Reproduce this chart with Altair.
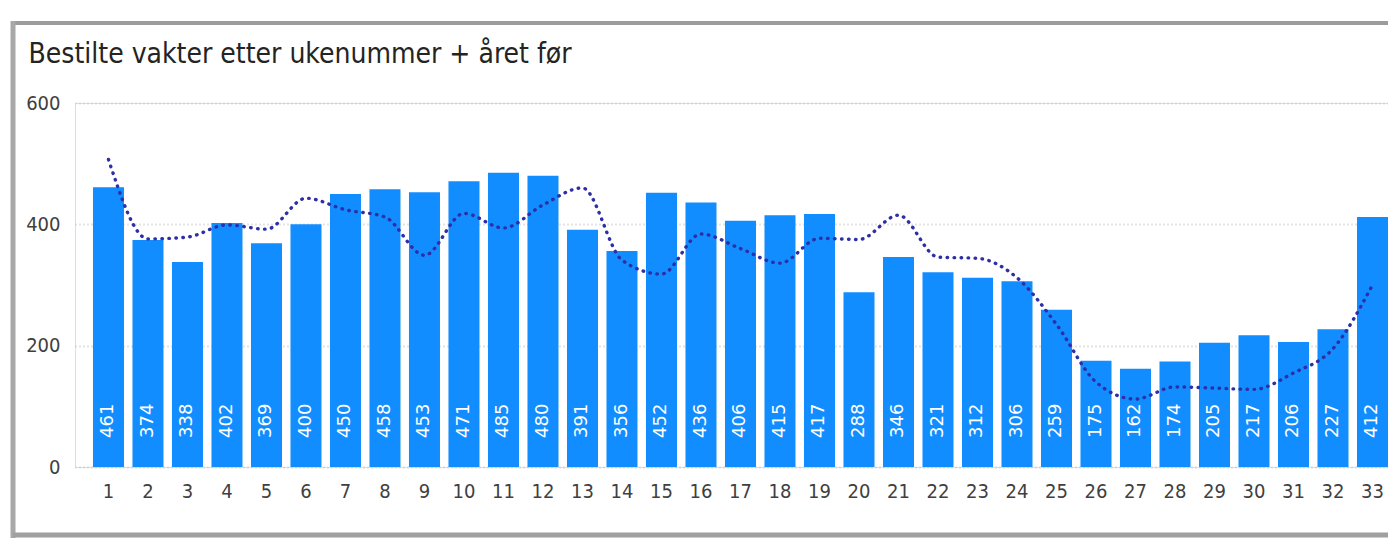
import altair as alt
import pandas as pd

weeks = list(range(1, 34))
bestilte = [461, 374, 338, 402, 369, 400, 450, 458, 453, 471, 485, 480, 391, 356, 452, 436,
            406, 415, 417, 288, 346, 321, 312, 306, 259, 175, 162, 174, 205, 217, 206, 227, 412]
aret_for = [507, 376, 379, 399, 392, 443, 424, 412, 349, 418, 394, 432, 460, 341, 318, 384,
            360, 336, 377, 375, 415, 346, 344, 312, 235, 140, 112, 132, 130, 128, 155, 195, 300]
y_ticks = [0, 200, 400, 600]
title_text = "Bestilte vakter etter ukenummer + året før"

df = pd.DataFrame({"uke": weeks, "bestilte": bestilte, "aret_for": aret_for, "zero": 0})

W = 1313
H = 364
FONT = "DejaVu Sans Condensed, Liberation Sans Narrow, DejaVu Sans, sans-serif"
LABEL_COLOR = "#404040"

xscale = alt.Scale(paddingInner=0.215, paddingOuter=0.2275, align=1, round=False)
yscale = alt.Scale(domain=[0, 600], nice=False, zero=True)

x_enc = alt.X("uke:O", scale=xscale,
              axis=alt.Axis(title=None, labelAngle=0, labelFontSize=20, labelColor=LABEL_COLOR,
                            labelFont=FONT, ticks=False, domain=False, labelPadding=14, grid=False))

base = alt.Chart(df)

bars = base.mark_bar(color="#118DFF").encode(
    x=x_enc,
    y=alt.Y("bestilte:Q", scale=yscale,
            axis=alt.Axis(title=None, values=y_ticks, labelFontSize=20, labelColor=LABEL_COLOR,
                          labelFont=FONT, ticks=False, domain=False, labelPadding=15,
                          grid=True, gridColor="#c8c8c8", gridDash=[1, 3], gridWidth=2)),
)

labels = base.mark_text(angle=270, align="left", baseline="middle", dx=29, color="white",
                        fontSize=18, font="DejaVu Sans").encode(
    x=alt.X("uke:O", scale=xscale),
    y=alt.Y("zero:Q", scale=yscale),
    text=alt.Text("bestilte:Q"),
)

line = base.mark_line(color="#2e2ea6", strokeWidth=3.4, strokeDash=[0.5, 6.5], strokeCap="round",
                      interpolate="monotone").encode(
    x=alt.X("uke:O", scale=xscale),
    y=alt.Y("aret_for:Q", scale=yscale),
)

frame_df = pd.DataFrame({"k": [0]})
frame_top = alt.Chart(frame_df).mark_rule(color="#9c9c9c", strokeWidth=4).encode(
    x=alt.value(-62), x2=alt.value(W + 10), y=alt.value(-80))
frame_left = alt.Chart(frame_df).mark_rule(color="#a8a8a8", strokeWidth=5).encode(
    x=alt.value(-62), y=alt.value(-82), y2=alt.value(440))
frame_bottom = alt.Chart(frame_df).mark_rule(color="#a0a0a0", strokeWidth=5).encode(
    x=alt.value(-62), x2=alt.value(W + 10), y=alt.value(432))

chart = alt.layer(bars, labels, line, frame_top, frame_left, frame_bottom).properties(
    width=W,
    height=H,
    autosize=alt.AutoSizeParams(type="none"),
    padding={"left": 67, "top": 95, "right": 0, "bottom": 71},
    title=alt.TitleParams(title_text, anchor="start", dx=18, dy=72, fontSize=28, font=FONT,
                          color="#252423", fontWeight="normal", offset=22),
).configure_view(stroke=None).configure(background="white")

chart.save("out.html", embed_options={"renderer": "svg", "actions": False})
